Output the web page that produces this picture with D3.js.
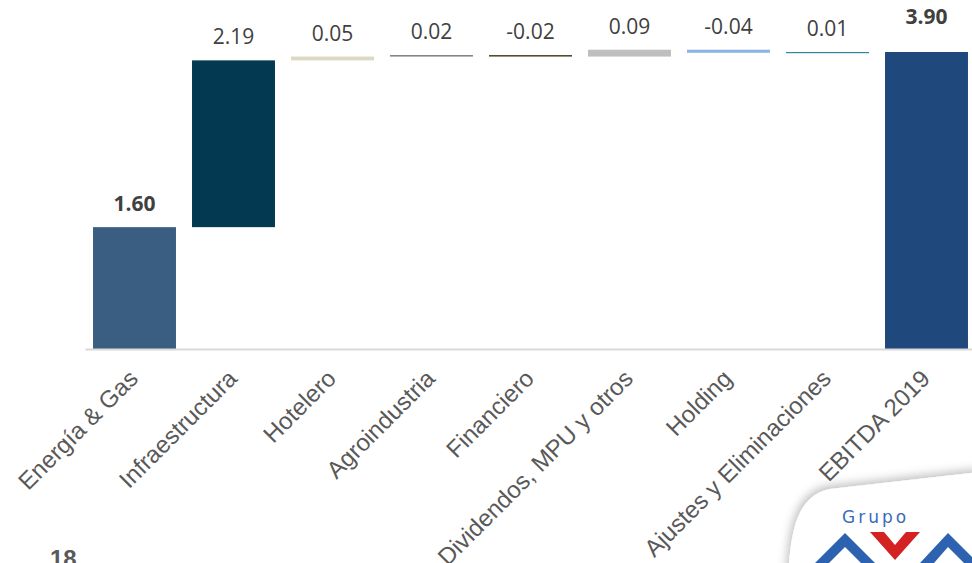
<!DOCTYPE html>
<html>
<head>
<meta charset="utf-8">
<script src="https://cdn.jsdelivr.net/npm/d3@7"></script>
<style>
  body { margin: 0; background: #fff; overflow: hidden; }
  svg { display: block; }
</style>
</head>
<body>
<script>
  // waterfall data
  var categories = ["Energía & Gas", "Infraestructura", "Hotelero", "Agroindustria", "Financiero",
                    "Dividendos, MPU y otros", "Holding", "Ajustes y Eliminaciones", "EBITDA 2019"];
  var values = [1.60, 2.19, 0.05, 0.02, -0.02, 0.09, -0.04, 0.01, 3.90];
  var isTotal = [true, false, false, false, false, false, false, false, true];
  var barColors = ["#3a5e82", "#033a52", "#ddd8c2", "#808080", "#4a4429", "#bfbfbf", "#8db3e2", "#31849b", "#1f497d"];

  var width = 972, height = 563;

  var svg = d3.select("body").append("svg")
      .attr("width", width)
      .attr("height", height);

  // running totals
  var running = 0;
  var steps = values.map(function(v, i) {
    var s, e;
    if (isTotal[i]) { s = 0; e = v; running = v; }
    else { s = running; e = running + v; running = e; }
    return { name: categories[i], value: v, start: s, end: e, total: isTotal[i], color: barColors[i] };
  });

  var x = d3.scaleBand()
      .domain(categories)
      .range([85, 976])
      .paddingInner(0.162)
      .paddingOuter(0.081);

  var y = d3.scaleLinear()
      .domain([0, 3.90])
      .range([349, 52]);

  svg.selectAll(".bar")
    .data(steps)
    .enter().append("rect")
      .attr("class", "bar")
      .attr("x", function(d) { return x(d.name); })
      .attr("width", x.bandwidth())
      .attr("y", function(d) { return y(Math.max(d.start, d.end)); })
      .attr("height", function(d) { return Math.max(1.2, Math.abs(y(d.start) - y(d.end))); })
      .style("fill", function(d) { return d.color; });

  // x axis
  var xAxis = d3.axisBottom(x).tickSize(0).tickSizeOuter(0);
  var gx = svg.append("g")
      .attr("transform", "translate(0,349)")
      .call(xAxis);
  gx.select(".domain").attr("stroke", "#d9d9d9").attr("stroke-width", 2);
  gx.selectAll("text")
      .attr("x", 0).attr("y", 0).attr("dy", 0)
      .attr("transform", "translate(5,31) rotate(-45)")
      .style("text-anchor", "end")
      .style("font-family", "'Liberation Sans', Arial, sans-serif")
      .style("font-size", "24px")
      .style("fill", "#595959");

  // value labels
  var fmt = function(v) { return d3.format(".2f")(v).replace("\u2212", "-"); };
  svg.selectAll(".lbl")
    .data(steps)
    .enter().append("text")
      .attr("class", "lbl")
      .attr("x", function(d) { return x(d.name) + x.bandwidth() / 2; })
      .attr("y", function(d, i) {
        var top = y(Math.max(d.start, d.end));
        return top - (i === steps.length - 1 ? 28 : 16);
      })
      .attr("text-anchor", "middle")
      .style("font-family", "'Open Sans', sans-serif")
      .style("font-size", function(d) { return d.total ? "21px" : "21px"; })
      .style("font-weight", function(d) { return d.total ? "bold" : "normal"; })
      .style("fill", "#404040")
      .text(function(d) { return fmt(d.value); });

  // page number
  svg.append("text")
      .attr("x", 50).attr("y", 567)
      .style("font-family", "'Liberation Sans', Arial, sans-serif")
      .style("font-size", "24px")
      .style("font-weight", "bold")
      .style("fill", "#595959")
      .text("18");

  // logo card bottom right
  var defs = svg.append("defs");
  var f = defs.append("filter").attr("id", "shadow")
      .attr("x", "-20%").attr("y", "-20%").attr("width", "140%").attr("height", "140%");
  f.append("feDropShadow")
      .attr("dx", -2).attr("dy", -3)
      .attr("stdDeviation", 5)
      .attr("flood-color", "#000")
      .attr("flood-opacity", 0.25);

  svg.append("path")
      .attr("d", "M788,575 C791,535 795,496 830,489 L980,472 L980,575 Z")
      .attr("fill", "#fff")
      .attr("filter", "url(#shadow)");

  svg.append("text")
      .attr("x", 842).attr("y", 523)
      .style("font-family", "'DejaVu Sans', sans-serif")
      .style("font-size", "17px")
      .style("letter-spacing", "3px")
      .style("fill", "#3a6cba")
      .text("Grupo");

  var chevrons = [
    { pts: [[815,563],[845,533],[875,563],[861,563],[845,547],[829,563]], c: "#2d62b0" },
    { pts: [[870,532],[884,532],[895,545],[906,532],[920,532],[895,560]], c: "#d42222" },
    { pts: [[920,563],[948,533],[978,563],[964,563],[948,547],[934,563]], c: "#2d62b0" }
  ];
  svg.selectAll(".chev")
    .data(chevrons)
    .enter().append("polygon")
      .attr("class", "chev")
      .attr("points", function(d) { return d.pts.join(" "); })
      .attr("fill", function(d) { return d.c; });
</script>
</body>
</html>
